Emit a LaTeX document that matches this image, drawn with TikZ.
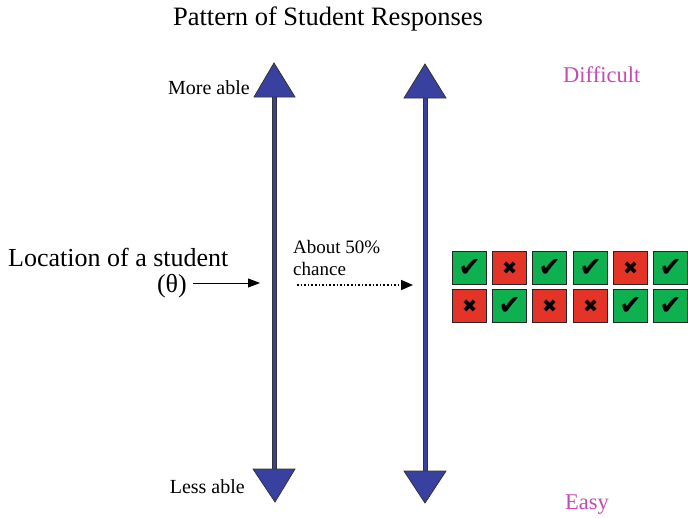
\documentclass[tikz,border=0pt]{standalone}
\usepackage{fontspec}
\setmainfont{Liberation Serif}
\newfontfamily\symfont{DejaVu Sans}
\usetikzlibrary{arrows.meta}
\definecolor{axblue}{RGB}{56,64,160}
\definecolor{okgreen}{RGB}{14,176,80}
\definecolor{badred}{RGB}{228,52,40}
\definecolor{pinklbl}{RGB}{196,74,180}
\tikzset{
  lbl/.style={inner sep=0pt, font=\fontsize{20}{24}\selectfont},
  biglbl/.style={inner sep=0pt, font=\fontsize{26}{30}\selectfont},
  pinktxt/.style={inner sep=0pt, text=pinklbl, font=\fontsize{22.5}{26}\selectfont},
  head/.style={fill=axblue, draw=black!80, line width=0.8pt, line join=miter},
  shaft/.style={fill=axblue, draw=black!80, line width=0.6pt},
  sq/.style={draw=black!85, line width=1.2pt, minimum width=34pt, minimum height=33pt, inner sep=0pt, anchor=north west},
  good/.style={sq, fill=okgreen, font=\symfont\fontsize{27}{27}\selectfont, text=black},
  bad/.style={sq, fill=badred, font=\symfont\fontsize{18}{18}\selectfont, text=black},
}
\begin{document}
\begin{tikzpicture}[x=1pt, y=-1pt]
\useasboundingbox (0,0) rectangle (688,517);
% title
\node[biglbl, font=\fontsize{26.5}{30}\selectfont, anchor=base] (title) at (328,25) {Pattern of Student Responses};
% left axis
\fill[shaft] (272.5,96) rectangle (276.5,470);
\draw[head] (274,63) -- (295,97) -- (254,97) -- cycle;
\draw[head] (275,502) -- (295,469) -- (253,469) -- cycle;
\coordinate (leftaxis) at (260,283);
% right axis
\fill[shaft] (423,97) rectangle (427,472);
\draw[head] (425,64) -- (446,98) -- (404,98) -- cycle;
\draw[head] (425,503) -- (446,471) -- (404,471) -- cycle;
\coordinate (rightaxis) at (413,285);
% labels
\node[lbl, anchor=base east] (more) at (250,94) {More able};
\node[lbl, anchor=base east] (less) at (245,493) {Less able};
\node[pinktxt, anchor=base west] (diff) at (563,82) {Difficult};
\node[pinktxt, anchor=base west] (easy) at (565,509) {Easy};
\node[biglbl, anchor=base west] (loc) at (8,266) {Location of a student};
\node[biglbl, anchor=base east] (theta) at (187,292) {(θ)};
\node[lbl, font=\fontsize{19}{22}\selectfont, anchor=base west] (about) at (293,253) {About 50\%};
\node[lbl, font=\fontsize{19}{22}\selectfont, anchor=base west] (chance) at (293,275) {chance};
\coordinate (thstart) at (193,283);
\coordinate (dotstart) at (297,285);
% connectors
\draw[line width=1pt, -{Triangle[length=12pt, width=9pt]}] (thstart) -- (leftaxis);
\draw[line width=1.6pt, dotted, -{Triangle[length=12pt, width=10pt]}] (dotstart) -- (rightaxis);
% response grid
\node[good] (a1) at (452,251) {✔};
\node[bad]  (a2) at (492,251) {✖};
\node[good] (a3) at (532,251) {✔};
\node[good] (a4) at (573,251) {✔};
\node[bad]  (a5) at (613,251) {✖};
\node[good] (a6) at (653,251) {✔};
\node[bad]  (b1) at (452,289) {✖};
\node[good] (b2) at (492,289) {✔};
\node[bad]  (b3) at (532,289) {✖};
\node[bad]  (b4) at (573,289) {✖};
\node[good] (b5) at (613,289) {✔};
\node[good] (b6) at (653,289) {✔};
\end{tikzpicture}
\end{document}
